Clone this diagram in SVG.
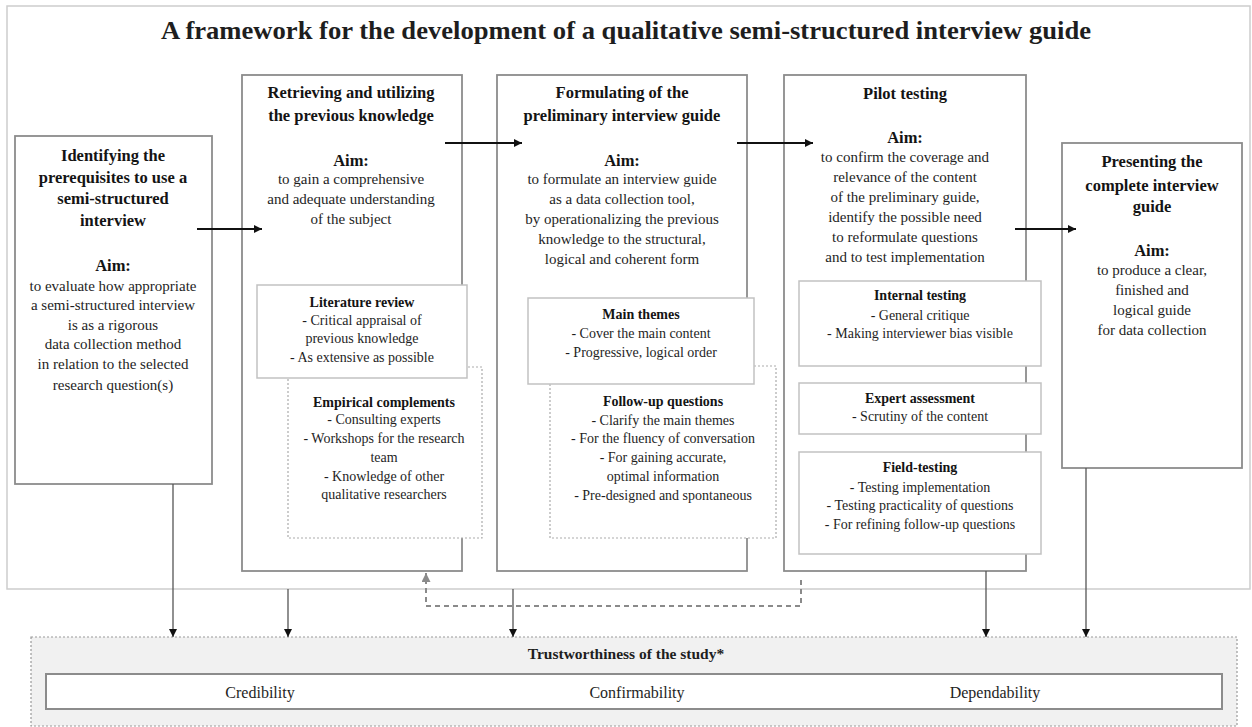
<svg xmlns="http://www.w3.org/2000/svg" width="1252" height="727" viewBox="0 0 1252 727">
<style>
text{font-family:"Liberation Serif","Times New Roman",serif;text-anchor:middle;fill:#1e1e1e}
.t{font-size:16.5px;font-weight:bold;fill:#141414}
.b{font-size:15px}
.st{font-size:14px;font-weight:bold;fill:#141414}
.sb{font-size:14px}
.main{fill:#fff;stroke:#8c8c8c;stroke-width:1.8}
.sub{fill:#fff;stroke:#c2c2c2;stroke-width:1.5}
.dot{fill:#fff;stroke:#ababab;stroke-width:1.2;stroke-dasharray:2 2}
.ha{stroke:#111;stroke-width:2;fill:none}
.va{stroke:#555;stroke-width:1.3;fill:none}
.da{stroke:#8a8a8a;stroke-width:2;fill:none;stroke-dasharray:5 4}
</style>
<defs>
<marker id="ah" viewBox="0 0 10 10" refX="10" refY="5" markerWidth="10" markerHeight="8" markerUnits="userSpaceOnUse" orient="auto"><path d="M0,0 L10,5 L0,10 Z" fill="#111"/></marker>
<marker id="av" viewBox="0 0 10 10" refX="10" refY="5" markerWidth="10" markerHeight="8" markerUnits="userSpaceOnUse" orient="auto"><path d="M0,0 L10,5 L0,10 Z" fill="#111"/></marker>
<marker id="ad" viewBox="0 0 10 10" refX="10" refY="5" markerWidth="11" markerHeight="9" markerUnits="userSpaceOnUse" orient="auto"><path d="M0,0 L10,5 L0,10 Z" fill="#8a8a8a"/></marker>
</defs>
<rect x="0" y="0" width="1252" height="727" fill="#fff"/>
<g id="frame">
<rect x="7" y="6" width="1243" height="583" fill="#fff" stroke="#cdcdcd" stroke-width="1.5"/>
<text x="626" y="39" font-size="25" font-weight="bold" fill="#111" textLength="930" lengthAdjust="spacingAndGlyphs">A framework for the development of a qualitative semi-structured interview guide</text>
</g>
<g id="n1">
<rect class="main" x="15" y="136" width="197" height="348"/>
<text class="t" x="113" y="161">Identifying the</text>
<text class="t" x="113" y="183">prerequisites to use a</text>
<text class="t" x="113" y="204">semi-structured</text>
<text class="t" x="113" y="226">interview</text>
<text class="t" x="113" y="271">Aim:</text>
<text class="b" x="113" y="291">to evaluate how appropriate</text>
<text class="b" x="113" y="310">a semi-structured interview</text>
<text class="b" x="113" y="330">is as a rigorous</text>
<text class="b" x="113" y="349">data collection method</text>
<text class="b" x="113" y="369">in relation to the selected</text>
<text class="b" x="113" y="390">research question(s)</text>
</g>
<g id="n2">
<rect class="main" x="242" y="75" width="220" height="496"/>
<text class="t" x="351" y="98">Retrieving and utilizing</text>
<text class="t" x="351" y="121">the previous knowledge</text>
<text class="t" x="351" y="166">Aim:</text>
<text class="b" x="351" y="184">to gain a comprehensive</text>
<text class="b" x="351" y="204">and adequate understanding</text>
<text class="b" x="351" y="224">of the subject</text>
<g id="n2b">
<rect class="dot" x="288" y="367" width="194" height="171"/>
<text class="st" x="384" y="407">Empirical complements</text>
<text class="sb" x="384" y="424">- Consulting experts</text>
<text class="sb" x="384" y="443">- Workshops for the research</text>
<text class="sb" x="384" y="462">team</text>
<text class="sb" x="384" y="481">- Knowledge of other</text>
<text class="sb" x="384" y="499">qualitative researchers</text>
</g>
<g id="n2a">
<rect class="sub" x="257" y="285" width="210" height="93"/>
<text class="st" x="362" y="307">Literature review</text>
<text class="sb" x="362" y="325">- Critical appraisal of</text>
<text class="sb" x="362" y="343">previous knowledge</text>
<text class="sb" x="362" y="362">- As extensive as possible</text>
</g>
</g>
<g id="n3">
<rect class="main" x="497" y="75" width="250" height="496"/>
<text class="t" x="622" y="98">Formulating of the</text>
<text class="t" x="622" y="121">preliminary interview guide</text>
<text class="t" x="622" y="166">Aim:</text>
<text class="b" x="622" y="184">to formulate an interview guide</text>
<text class="b" x="622" y="204">as a data collection tool,</text>
<text class="b" x="622" y="224">by operationalizing the previous</text>
<text class="b" x="622" y="244">knowledge to the structural,</text>
<text class="b" x="622" y="264">logical and coherent form</text>
<g id="n3b">
<rect class="dot" x="550" y="366" width="226" height="172"/>
<text class="st" x="663" y="406">Follow-up questions</text>
<text class="sb" x="663" y="425">- Clarify the main themes</text>
<text class="sb" x="663" y="443">- For the fluency of conversation</text>
<text class="sb" x="663" y="462">- For gaining accurate,</text>
<text class="sb" x="663" y="481">optimal information</text>
<text class="sb" x="663" y="500">- Pre-designed and spontaneous</text>
</g>
<g id="n3a">
<rect class="sub" x="528" y="298" width="226" height="86"/>
<text class="st" x="641" y="319">Main themes</text>
<text class="sb" x="641" y="338">- Cover the main content</text>
<text class="sb" x="641" y="357">- Progressive, logical order</text>
</g>
</g>
<g id="n4">
<rect class="main" x="784" y="75" width="242" height="496"/>
<text class="t" x="905" y="99">Pilot testing</text>
<text class="t" x="905" y="143">Aim:</text>
<text class="b" x="905" y="162">to confirm the coverage and</text>
<text class="b" x="905" y="182">relevance of the content</text>
<text class="b" x="905" y="202">of the preliminary guide,</text>
<text class="b" x="905" y="222">identify the possible need</text>
<text class="b" x="905" y="242">to reformulate questions</text>
<text class="b" x="905" y="262">and to test implementation</text>
<g id="n4a">
<rect class="sub" x="799" y="281" width="242" height="85"/>
<text class="st" x="920" y="300">Internal testing</text>
<text class="sb" x="920" y="320">- General critique</text>
<text class="sb" x="920" y="338">- Making interviewer bias visible</text>
</g>
<g id="n4b">
<rect class="sub" x="799" y="383" width="242" height="51"/>
<text class="st" x="920" y="403">Expert assessment</text>
<text class="sb" x="920" y="421">- Scrutiny of the content</text>
</g>
<g id="n4c">
<rect class="sub" x="799" y="452" width="242" height="102"/>
<text class="st" x="920" y="472">Field-testing</text>
<text class="sb" x="920" y="492">- Testing implementation</text>
<text class="sb" x="920" y="510">- Testing practicality of questions</text>
<text class="sb" x="920" y="529">- For refining follow-up questions</text>
</g>
</g>
<g id="n5">
<rect class="main" x="1062" y="143" width="180" height="325"/>
<text class="t" x="1152" y="167">Presenting the</text>
<text class="t" x="1152" y="191">complete interview</text>
<text class="t" x="1152" y="212">guide</text>
<text class="t" x="1152" y="256">Aim:</text>
<text class="b" x="1152" y="275">to produce a clear,</text>
<text class="b" x="1152" y="295">finished and</text>
<text class="b" x="1152" y="315">logical guide</text>
<text class="b" x="1152" y="335">for data collection</text>
</g>
<g id="n6">
<rect x="31" y="637" width="1206" height="89" fill="#f1f1f1" stroke="#9a9a9a" stroke-width="1.2" stroke-dasharray="2 2"/>
<text x="626" y="659" font-size="15.5" font-weight="bold" fill="#141414">Trustworthiness of the study*</text>
<rect x="46" y="674" width="1176" height="35" fill="#fff" stroke="#8c8c8c" stroke-width="2"/>
<text x="260" y="698" font-size="16">Credibility</text>
<text x="637" y="698" font-size="16">Confirmability</text>
<text x="995" y="698" font-size="16">Dependability</text>
</g>
<g id="connectors">
<line class="ha" x1="197" y1="229" x2="262" y2="229" marker-end="url(#ah)"/>
<line class="ha" x1="445" y1="143" x2="522" y2="143" marker-end="url(#ah)"/>
<line class="ha" x1="737" y1="143" x2="813" y2="143" marker-end="url(#ah)"/>
<line class="ha" x1="1015" y1="229" x2="1076" y2="229" marker-end="url(#ah)"/>
<line class="va" x1="173" y1="484" x2="173" y2="637" marker-end="url(#av)"/>
<line class="va" x1="288" y1="589" x2="288" y2="637" marker-end="url(#av)"/>
<line class="va" x1="513" y1="589" x2="513" y2="637" marker-end="url(#av)"/>
<line class="va" x1="986" y1="571" x2="986" y2="637" marker-end="url(#av)"/>
<line class="va" x1="1086" y1="468" x2="1086" y2="637" marker-end="url(#av)"/>
<polyline class="da" points="801,580 801,606 426,606 426,573" marker-end="url(#ad)"/>
</g>
</svg>
